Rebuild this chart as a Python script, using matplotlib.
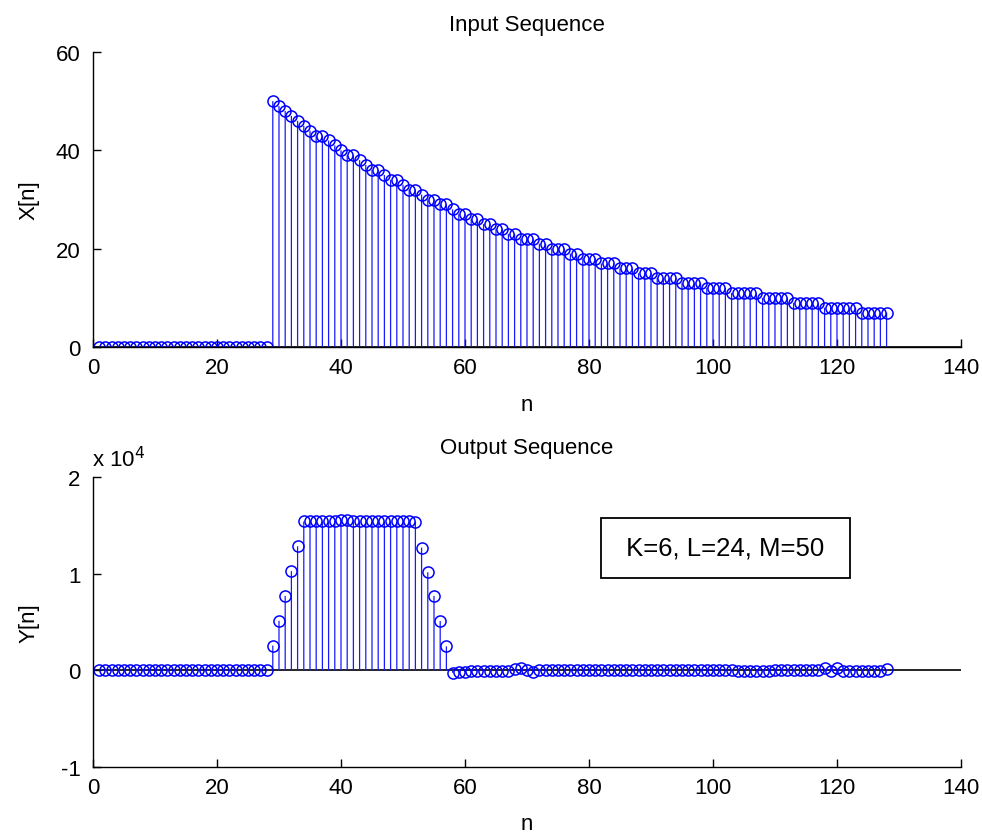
import numpy as np
import matplotlib
matplotlib.use('Agg')
import matplotlib.pyplot as plt
from matplotlib.ticker import FuncFormatter

plt.rcParams['font.family'] = ['Liberation Sans', 'DejaVu Sans']

# sample index
n = np.arange(1, 129)

# input sequence: zero up to n=28, then decaying pulse
x_zero = [0] * 28
x_pulse = [50, 49, 48, 47, 46, 45, 44, 43, 43, 42,
           41, 40, 39, 39, 38, 37, 36, 36, 35, 34,
           34, 33, 32, 32, 31, 30, 30, 29, 29, 28,
           27, 27, 26, 26, 25, 25, 24, 24, 23, 23,
           22, 22, 22, 21, 21, 20, 20, 20, 19, 19,
           18, 18, 18, 17, 17, 17, 16, 16, 16, 15,
           15, 15, 14, 14, 14, 14, 13, 13, 13, 13,
           12, 12, 12, 12, 11, 11, 11, 11, 11, 10,
           10, 10, 10, 10, 9, 9, 9, 9, 9, 8,
           8, 8, 8, 8, 8, 7, 7, 7, 7, 7]
x_vals = x_zero + x_pulse

# output sequence (trapezoid shaper output)
y_zero = [0] * 28
y_rise = [2567, 5133, 7700, 10267, 12833]
y_flat = [15400, 15400, 15400, 15400, 15400, 15450, 15550, 15600, 15500, 15400,
          15400, 15400, 15400, 15400, 15400, 15400, 15400, 15400, 15350]
y_fall = [12700, 10150, 7700, 5100, 2480]
y_tail = [-250, -200, -150, -50, -50, -50, -50, -50, -50, -50,
          150, 250, 0, -200, 0, 0, 0, 0, 0, 0,
          0, 0, 0, 0, 0, 0, 0, 0, 0, 0,
          0, 0, 0, 0, 0, 0, 0, 0, 0, 0,
          0, 0, 0, 0, 0, 0, -100, -100, -100, -100,
          -100, -100, 0, 0, 0, 0, 0, 0, 0, 0,
          200, -100, 200, -80, -80, -80, -80, -80, -80, -80,
          100]
y_vals = y_zero + y_rise + y_flat + y_fall + y_tail

params_label = ' K=6, L=24, M=50 '

fig = plt.figure(figsize=(9.82, 8.37), dpi=100)
ax1 = fig.add_axes([0.0947, 0.5842, 0.8839, 0.3525])
ax2 = fig.add_axes([0.0947, 0.0824, 0.8839, 0.3465])

fs = 16


def stem_plot(ax, xs, ys):
    ml, sl, bl = ax.stem(xs, ys, linefmt='b-', markerfmt='bo', basefmt=' ')
    plt.setp(sl, linewidth=0.9, color='#1a1aff', snap=False)
    plt.setp(ml, markerfacecolor='none', markeredgecolor='#0000ff',
             markersize=8, markeredgewidth=1.1)
    ax.axhline(0, color='k', linewidth=1.2, zorder=1)


def style(ax):
    for s in ['top', 'right']:
        ax.spines[s].set_visible(False)
    for s in ['left', 'bottom']:
        ax.spines[s].set_linewidth(1.0)
    ax.tick_params(direction='in', length=6, width=1.0, labelsize=fs)
    ax.tick_params(axis='x', pad=7)
    ax.tick_params(axis='y', pad=9)
    ax.set_xlim(0, 140)
    ax.set_xticks(np.arange(0, 141, 20))
    ax.yaxis.set_label_coords(-0.062, 0.5)


stem_plot(ax1, n, x_vals)
style(ax1)
ax1.set_ylim(0, 60)
ax1.set_yticks([0, 20, 40, 60])
ax1.set_title('Input Sequence', fontsize=fs, pad=16)
ax1.set_xlabel('n', fontsize=fs, labelpad=12)
ax1.set_ylabel('X[n]', fontsize=fs)

stem_plot(ax2, n, y_vals)
style(ax2)
ax2.set_ylim(-1e4, 2e4)
ax2.set_yticks([-1e4, 0, 1e4, 2e4])
ax2.yaxis.set_major_formatter(FuncFormatter(lambda v, p: '%d' % round(v / 1e4)))
ax2.set_title('Output Sequence', fontsize=fs, pad=17)
ax2.set_xlabel('n', fontsize=fs, labelpad=11)
ax2.set_ylabel('Y[n]', fontsize=fs)
ax2.text(-0.001, 1.02, r'x 10$^{4}$', transform=ax2.transAxes, fontsize=fs,
         ha='left', va='bottom')
ax2.text(102, 12700, params_label, fontsize=18.5, ha='center', va='center',
         bbox=dict(boxstyle='square,pad=0.7', facecolor='white',
                   edgecolor='black', linewidth=1.3))

fig.savefig('out.png', dpi=100)
